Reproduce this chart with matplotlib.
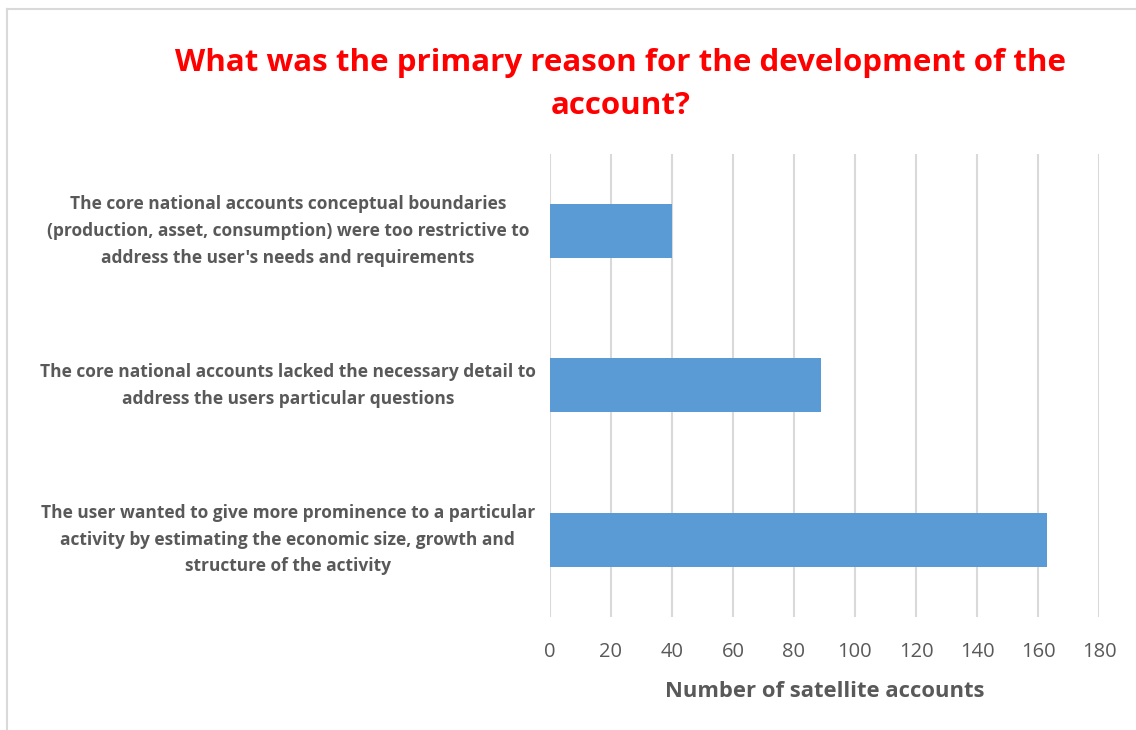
import matplotlib.pyplot as plt
from matplotlib.lines import Line2D

# data
reasons = [
    "The core national accounts conceptual boundaries\n(production, asset, consumption) were too restrictive to\naddress the user's needs and requirements",
    "The core national accounts lacked the necessary detail to\naddress the users particular questions",
    "The user wanted to give more prominence to a particular\nactivity by estimating the economic size, growth and\nstructure of the activity",
]
counts = [40, 89, 163]
x_ticks = [0, 20, 40, 60, 80, 100, 120, 140, 160, 180]

bar_color = "#5B9BD5"
text_gray = "#595959"
grid_gray = "#D9D9D9"

plt.rcParams['font.family'] = ['Open Sans', 'DejaVu Sans']

fig = plt.figure(figsize=(11.36, 7.30), dpi=100)
ax = fig.add_axes([0.484, 0.155, 0.4835, 0.634])

ypos = list(range(len(reasons)))
ax.barh(ypos, counts, height=0.35, color=bar_color, zorder=3)
ax.set_ylim(len(reasons) - 0.5, -0.5)
ax.set_xlim(0, 180)
ax.set_xticks(x_ticks)
ax.set_xticklabels([str(t) for t in x_ticks], fontsize=14.5, color=text_gray)
ax.tick_params(axis='x', length=0, pad=18)
ax.set_yticks([])

# the category labels sit in their own column, centred
for y, txt in zip(ypos, reasons):
    ax.text(-0.477, y, txt, transform=ax.get_yaxis_transform(),
            ha='center', va='center', fontsize=12.5, fontweight='bold',
            color=text_gray, linespacing=1.62)

ax.grid(axis='x', color=grid_gray, linewidth=1.5, zorder=0)
for s in ax.spines.values():
    s.set_visible(False)

ax.set_xlabel("Number of satellite accounts", fontsize=15.8, fontweight='bold',
              color=text_gray, labelpad=14)

fig.text(0.546, 0.884, "What was the primary reason for the development of the\naccount?",
         ha='center', va='center', fontsize=22.5, fontweight='bold', color='red',
         linespacing=1.55)

# light frame around the chart (only left and top edges are visible)
fig.add_artist(Line2D([7 / 1136, 7 / 1136], [0, 1 - 9 / 730], color=grid_gray, linewidth=1.5))
fig.add_artist(Line2D([7 / 1136, 1], [1 - 9 / 730, 1 - 9 / 730], color=grid_gray, linewidth=1.5))

fig.savefig("out.png", dpi=100)
